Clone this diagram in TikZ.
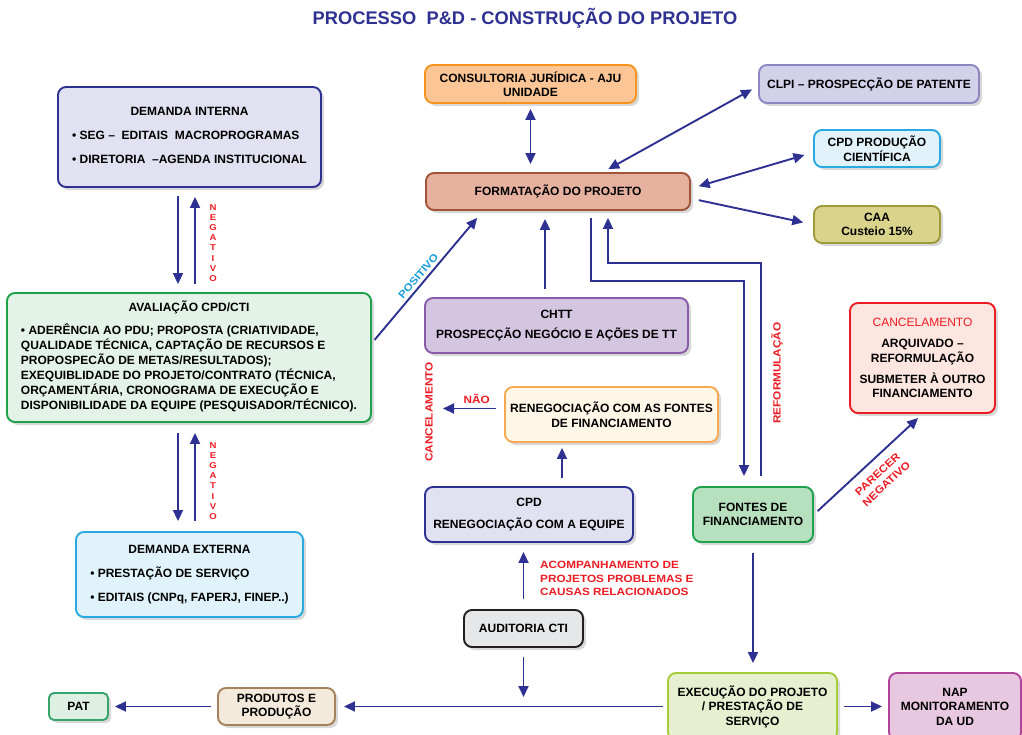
\documentclass[tikz,border=0pt]{standalone}
\usepackage{fontspec}
\setmainfont{Liberation Sans}
\newfontfamily\widefont{Liberation Sans}[FakeStretch=1.12]
\usetikzlibrary{arrows.meta,shadows,calc}
\definecolor{arrowblue}{HTML}{2E3192}
\definecolor{titleblue}{HTML}{2E3192}
\definecolor{labred}{HTML}{ED1C24}
\definecolor{poscyan}{HTML}{1B9DD9}
\definecolor{diF}{HTML}{E1E1F1}\definecolor{diD}{HTML}{2E3192}
\definecolor{avF}{HTML}{E4F3E7}\definecolor{avD}{HTML}{1DA24B}
\definecolor{deF}{HTML}{E0F3FB}\definecolor{deD}{HTML}{27AAE1}
\definecolor{coF}{HTML}{FBC596}\definecolor{coD}{HTML}{F7941D}
\definecolor{foF}{HTML}{E7B19F}\definecolor{foD}{HTML}{A3523A}
\definecolor{clF}{HTML}{D3D1EA}\definecolor{clD}{HTML}{8C87C0}
\definecolor{cpF}{HTML}{E2F2FB}\definecolor{cpD}{HTML}{27AAE1}
\definecolor{caF}{HTML}{D9D38C}\definecolor{caD}{HTML}{9C9A3A}
\definecolor{chF}{HTML}{D4C5E1}\definecolor{chD}{HTML}{8A5BA8}
\definecolor{rnF}{HTML}{FEF6E7}\definecolor{rnD}{HTML}{F7A94F}
\definecolor{auF}{HTML}{E6E7E8}\definecolor{auD}{HTML}{231F20}
\definecolor{ftF}{HTML}{B7E0BE}\definecolor{ftD}{HTML}{1DA24B}
\definecolor{cnF}{HTML}{FDE6DF}\definecolor{cnD}{HTML}{ED1C24}
\definecolor{exF}{HTML}{E6EFCF}\definecolor{exD}{HTML}{A5CD39}
\definecolor{naF}{HTML}{E8C7E0}\definecolor{naD}{HTML}{B0449A}
\definecolor{prF}{HTML}{F4EADB}\definecolor{prD}{HTML}{A2815B}
\definecolor{paF}{HTML}{DDF0E3}\definecolor{paD}{HTML}{36A46B}
\begin{document}
\begin{tikzpicture}[x=1pt,y=-1pt,
  bx/.style={line width=1.9pt, rounded corners=8pt, inner sep=0pt, align=center,
     drop shadow={shadow xshift=3pt,shadow yshift=-3pt,opacity=0.3},
     font=\fontsize{12}{14.5}\selectfont\bfseries},
  arr/.style={draw=arrowblue, line width=1.9pt, -{Triangle[length=11pt,width=10pt]}},
  darr/.style={draw=arrowblue, line width=1.9pt, {Triangle[length=11pt,width=10pt]}-{Triangle[length=11pt,width=10pt]}},
  redlab/.style={text=labred, inner sep=0pt, font=\widefont\fontsize{10.5}{13}\selectfont\bfseries},
  neglab/.style={text=labred, inner sep=0pt, align=center, font=\widefont\fontsize{8.5}{10.2}\selectfont\bfseries},
]
\fill[white] (0,0) rectangle (1022,734);
\useasboundingbox (0,0) rectangle (1022,734);

% title
\node[font=\fontsize{18.3}{20}\selectfont\bfseries, text=titleblue] (title) at (525,18) {PROCESSO\ \ P\&D - CONSTRUÇÃO DO PROJETO};

% boxes
\node[bx, fill=diF, draw=diD, minimum width=263pt, minimum height=100pt] (di) at (189.5,137)
  {\begin{tabular}{@{}l@{}}\multicolumn{1}{@{}c@{}}{DEMANDA INTERNA}\\[9.5pt]
   • SEG –\ \ EDITAIS\ \ MACROPROGRAMAS\\[9.5pt]
   • DIRETORIA\ \ –AGENDA INSTITUCIONAL\end{tabular}};

\node[bx, fill=avF, draw=avD, minimum width=364pt, minimum height=129pt,
      font=\fontsize{12}{14.33}\selectfont\bfseries] (av) at (189,357.5)
  {\begin{tabular}{@{}l@{}}\multicolumn{1}{@{}c@{}}{AVALIAÇÃO CPD/CTI}\\[8pt]
   • ADERÊNCIA AO PDU; PROPOSTA (CRIATIVIDADE,\\
   QUALIDADE TÉCNICA, CAPTAÇÃO DE RECURSOS E\\
   PROPOSPECÃO DE METAS/RESULTADOS);\\
   EXEQUIBLIDADE DO PROJETO/CONTRATO (TÉCNICA,\\
   ORÇAMENTÁRIA, CRONOGRAMA DE EXECUÇÃO E\\
   DISPONIBILIDADE DA EQUIPE (PESQUISADOR/TÉCNICO).\end{tabular}};

\node[bx, fill=deF, draw=deD, minimum width=227pt, minimum height=85pt] (de) at (189.5,574.5)
  {\begin{tabular}{@{}l@{}}\multicolumn{1}{@{}c@{}}{DEMANDA EXTERNA}\\[9pt]
   • PRESTAÇÃO DE SERVIÇO\\[9pt]
   • EDITAIS (CNPq, FAPERJ, FINEP..)\end{tabular}};

\node[bx, fill=coF, draw=coD, minimum width=211pt, minimum height=38pt] (cons) at (530.5,84)
  {CONSULTORIA JURÍDICA - AJU\\UNIDADE};
\node[bx, fill=foF, draw=foD, minimum width=264pt, minimum height=37pt] (form) at (558,191.5)
  {FORMATAÇÃO DO PROJETO};
\node[bx, fill=clF, draw=clD, minimum width=220pt, minimum height=38pt] (clpi) at (869,84)
  {CLPI – PROSPECÇÃO DE PATENTE};
\node[bx, fill=cpF, draw=cpD, minimum width=126pt, minimum height=37pt] (cpdp) at (877,148.5)
  {CPD PRODUÇÃO\\CIENTÍFICA};
\node[bx, fill=caF, draw=caD, minimum width=126pt, minimum height=37pt] (caa) at (877,224.5)
  {CAA\\Custeio 15\%};
\node[bx, fill=chF, draw=chD, minimum width=263pt, minimum height=55pt] (chtt) at (556.5,325.5)
  {CHTT\\[5.5pt]PROSPECÇÃO NEGÓCIO E AÇÕES DE TT};
\node[bx, fill=rnF, draw=rnD, minimum width=213pt, minimum height=55pt] (rnf) at (611.5,414.5)
  {RENEGOCIAÇÃO COM AS FONTES\\DE FINANCIAMENTO};
\node[bx, fill=diF, draw=diD, minimum width=208pt, minimum height=55pt] (cpdr) at (529,514.5)
  {CPD\\[7.5pt]RENEGOCIAÇÃO COM A EQUIPE};
\node[bx, fill=auF, draw=auD, minimum width=119pt, minimum height=37pt] (aud) at (523.5,628.5)
  {AUDITORIA CTI};
\node[bx, fill=ftF, draw=ftD, minimum width=120pt, minimum height=55pt] (font) at (753,514.5)
  {FONTES DE\\FINANCIAMENTO};
\node[bx, fill=cnF, draw=cnD, minimum width=145pt, minimum height=110pt] (canc) at (922.5,358)
  {{\color{labred}\mdseries CANCELAMENTO}\\[6.5pt]ARQUIVADO –\\REFORMULAÇÃO\\[6.5pt]SUBMETER À OUTRO\\FINANCIAMENTO};
\node[bx, fill=exF, draw=exD, minimum width=169pt, minimum height=67pt] (exec) at (752.5,706.5)
  {EXECUÇÃO DO PROJETO\\/ PRESTAÇÃO DE\\SERVIÇO};
\node[bx, fill=naF, draw=naD, minimum width=132pt, minimum height=67pt] (nap) at (955,706.5)
  {NAP\\MONITORAMENTO\\DA UD};
\node[bx, fill=prF, draw=prD, minimum width=117pt, minimum height=37pt] (prod) at (276.5,706.5)
  {PRODUTOS E\\PRODUÇÃO};
\node[bx, fill=paF, draw=paD, minimum width=59pt, minimum height=27pt, rounded corners=5pt] (pat) at (78.5,706.5)
  {PAT};

% helper coordinates
\coordinate (busA) at (650,281);
\coordinate (busB) at (650,263);
\coordinate (cancpt) at (443,408.5);
\coordinate (audend) at (523.5,697);

% connectors
\draw[arr, shorten <=8pt, shorten >=8pt] ([xshift=-11.5pt]di.south) -- ([xshift=-11.5pt]di.south |- av.north);
\draw[arr, shorten <=8pt, shorten >=9pt] ([xshift=5.5pt]di.south |- av.north) -- ([xshift=5.5pt]di.south);
\node[neglab] (neg1) at (213,243) {N\\E\\G\\A\\T\\I\\V\\O};

\draw[arr, shorten <=10pt, shorten >=10pt] ([xshift=-11pt]av.south) -- ([xshift=-11pt]av.south |- de.north);
\draw[arr, shorten <=10pt, shorten >=10pt] ([xshift=6pt]av.south |- de.north) -- ([xshift=6pt]av.south);
\node[neglab] (neg2) at (213,481) {N\\E\\G\\A\\T\\I\\V\\O};

\draw[darr, shorten <=5pt, shorten >=8pt] (cons.south) -- (cons.south |- form.north);
\draw[darr, shorten <=6pt, shorten >=7pt] ([xshift=45pt]form.north) -- ([yshift=-2pt]clpi.west);
\draw[darr, shorten <=8pt, shorten >=9pt] ([yshift=3pt]form.east) -- ([yshift=-4pt]cpdp.west);
\draw[arr, shorten <=8pt, shorten >=10pt] ([yshift=-7pt]form.east) -- (caa.west);

\draw[arr, shorten <=4pt, shorten >=9pt] ([yshift=14.5pt]av.east) -- ([xshift=-75pt]form.south)
  node[pos=0.47, sloped, above=3pt, text=poscyan, inner sep=0pt, font=\widefont\fontsize{10.5}{13}\selectfont\bfseries] (poslab) {POSITIVO};

\draw[arr, shorten <=8pt, shorten >=8pt] ([xshift=-11.5pt]chtt.north) -- ([xshift=-11.5pt]chtt.north |- form.south);
\draw[arr, shorten <=7pt, shorten >=10pt] ([xshift=33pt]form.south) |- (busA) -| ([xshift=-9pt]font.north);
\draw[arr, shorten <=10pt, shorten >=7pt] ([xshift=8pt]font.north) |- (busB) -| ([xshift=50pt]form.south);
\node[redlab, rotate=90] (reflab) at (777,373) {REFORMULAÇÃO};

\draw[arr, shorten <=8pt] ([yshift=6pt]rnf.west) -- (cancpt)
  node[pos=0.45, above=4pt, redlab] (naolab) {NÃO};
\node[redlab, rotate=90] (canclab) at (429,412) {CANCELAMENTO};

\draw[arr, shorten <=8pt, shorten >=5pt] ([xshift=33pt]cpdr.north) -- ([xshift=33pt]cpdr.north |- rnf.south);
\draw[arr, shorten <=10pt, shorten >=9pt] (aud.north) -- (aud.north |- cpdr.south);
\node[redlab, anchor=west, align=left, font=\widefont\fontsize{10.5}{13.5}\selectfont\bfseries] (acomp) at (540,578.5)
  {ACOMPANHAMENTO DE\\PROJETOS PROBLEMAS E\\CAUSAS RELACIONADOS};
\draw[arr, shorten <=9pt] (aud.south) -- (audend);

\draw[arr, shorten <=5pt, shorten >=6pt] (font.east) -- (canc.south)
  node[pos=0.5, sloped, below=9pt, redlab, align=center] (parlab) {PARECER\\NEGATIVO};

\draw[arr, shorten <=10pt, shorten >=9pt] (font.south) -- (font.south |- exec.north);
\draw[arr, shorten <=6pt, shorten >=6pt] (exec.east) -- (nap.west);
\draw[arr, shorten <=4pt, shorten >=8pt] (exec.west) -- (prod.east);
\draw[arr, shorten <=6pt, shorten >=6pt] (prod.west) -- (pat.east);
\end{tikzpicture}
\end{document}
